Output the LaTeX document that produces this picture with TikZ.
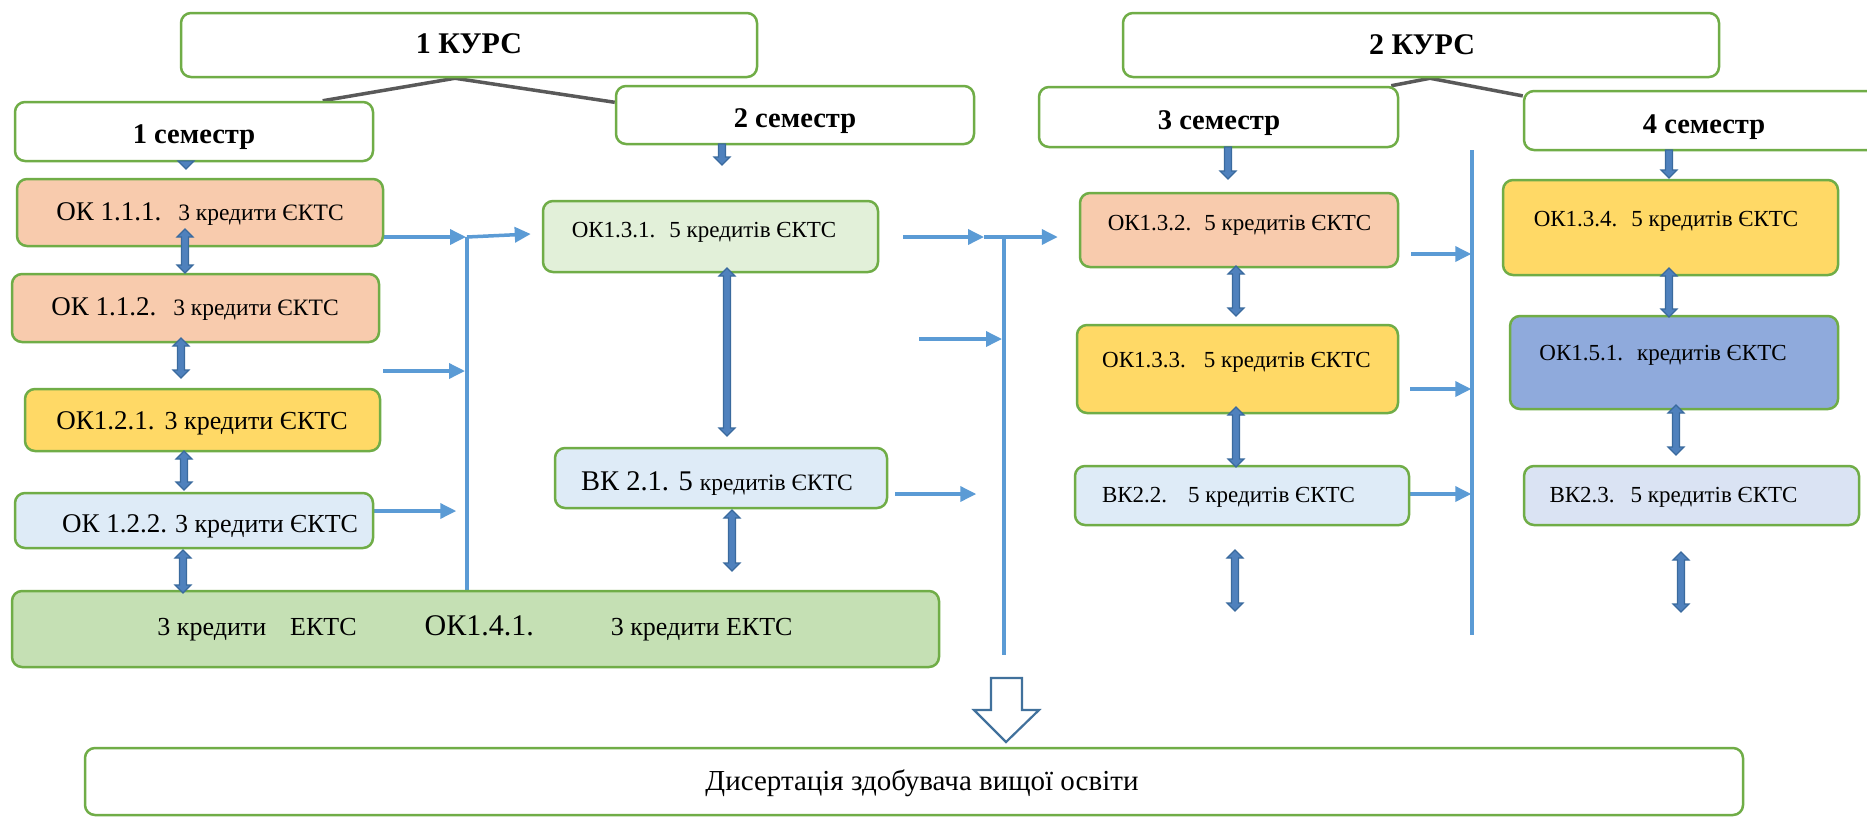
\documentclass[tikz,border=0pt]{standalone}
\usepackage{fontspec}
\setmainfont{Liberation Serif}
\usetikzlibrary{arrows.meta,calc,backgrounds}
\definecolor{gbord}{HTML}{70AD47}
\definecolor{peach}{HTML}{F8CBAD}
\definecolor{yellowb}{HTML}{FFD966}
\definecolor{lblue}{HTML}{DEEBF7}
\definecolor{lgreen}{HTML}{E2F0D9}
\definecolor{mgreen}{HTML}{C5E0B4}
\definecolor{mblue}{HTML}{8FAADC}
\definecolor{vkblue}{HTML}{DAE3F3}
\definecolor{ablue}{HTML}{5B9BD5}
\definecolor{dgrey}{HTML}{595959}
\definecolor{blkfill}{HTML}{4F81BD}
\definecolor{blkdraw}{HTML}{3A6A9E}
\definecolor{hollowc}{HTML}{41719C}
\newcommand\setfs[1]{\fontsize{#1}{#1}\selectfont}
\newcommand\dblarr[3]{%
  \filldraw[blkarr] (#1,#2) -- ++(8,8) -- ++(-4.5,0) -- (#1+3.5,#3-8) -- ++(4.5,0) -- (#1,#3)
    -- ++(-8,-8) -- ++(4.5,0) -- (#1-3.5,#2+8) -- ++(-4.5,0) -- cycle;}
\newcommand\dnarr[3]{%
  \filldraw[blkarr] (#1-3.5,#2) -- (#1+3.5,#2) -- (#1+3.5,#3-8) -- (#1+8,#3-8) -- (#1,#3)
    -- (#1-8,#3-8) -- (#1-3.5,#3-8) -- cycle;}
\tikzset{
  box/.style={draw=gbord, line width=2.5pt, rounded corners=10pt, inner sep=0pt},
  txt/.style={anchor=base, inner sep=0pt, text=black},
  conn/.style={draw=ablue, line width=3.5pt, -{Triangle[length=16pt,width=15pt]}},
  bus/.style={draw=ablue, line width=3.5pt},
  greyl/.style={draw=dgrey, line width=3.5pt},
  blkarr/.style={fill=blkfill, draw=blkdraw, line width=1.2pt},
  hollow/.style={draw=hollowc, fill=white, line width=2.2pt, line join=miter},
}
\begin{document}
\begin{tikzpicture}[x=1pt,y=-1pt]
\useasboundingbox (0,0) rectangle (1867,817);
\clip (0,0) rectangle (1867,817);

% course and semester boxes
\node[box, fill=white, minimum width=576pt, minimum height=64pt] (kurs1) at (469,45) {};
\node[box, fill=white, minimum width=596pt, minimum height=64pt] (kurs2) at (1421,45) {};
\node[box, fill=white, minimum width=358pt, minimum height=59pt] (sem1) at (194,131.5) {};
\node[box, fill=white, minimum width=358pt, minimum height=58pt] (sem2) at (795,115) {};
\node[box, fill=white, minimum width=359pt, minimum height=60pt] (sem3) at (1218.5,117) {};
\node[box, fill=white, minimum width=360pt, minimum height=59pt] (sem4) at (1704,120.5) {};

% column 1
\node[box, fill=peach, minimum width=366pt, minimum height=67pt] (ok111) at (200,212.5) {};
\node[box, fill=peach, minimum width=367pt, minimum height=68pt] (ok112) at (195.5,308) {};
\node[box, fill=yellowb, minimum width=355pt, minimum height=62pt] (ok121) at (202.5,420) {};
\node[box, fill=lblue, minimum width=358pt, minimum height=55pt] (ok122) at (194,520.5) {};
\node[box, fill=mgreen, minimum width=927pt, minimum height=76pt] (ok141) at (475.5,629) {};
% column 2
\node[box, fill=lgreen, minimum width=335pt, minimum height=71pt] (ok131) at (710.5,236.5) {};
\node[box, fill=lblue, minimum width=332pt, minimum height=60pt] (vk21) at (721,478) {};
% column 3
\node[box, fill=peach, minimum width=318pt, minimum height=74pt] (ok132) at (1239,230) {};
\node[box, fill=yellowb, minimum width=321pt, minimum height=88pt] (ok133) at (1237.5,369) {};
\node[box, fill=lblue, minimum width=334pt, minimum height=59pt] (vk22) at (1242,495.5) {};
% column 4
\node[box, fill=yellowb, minimum width=335pt, minimum height=95pt] (ok134) at (1670.5,227.5) {};
\node[box, fill=mblue, minimum width=328pt, minimum height=93pt] (ok151) at (1674,362.5) {};
\node[box, fill=vkblue, minimum width=335pt, minimum height=59pt] (vk23) at (1691.5,495.5) {};
% dissertation
\node[box, fill=white, minimum width=1658pt, minimum height=67pt] (diss) at (914,781.5) {};

% texts
\node[txt] (tkurs1) at (469,53) {\setfs{30}\bfseries 1 КУРС};
\node[txt] (tkurs2) at (1422,54) {\setfs{30}\bfseries 2 КУРС};
\node[txt] (tsem1) at (194,143) {\setfs{28.5}\bfseries 1 семестр};
\node[txt] (tsem2) at (795,127) {\setfs{28.5}\bfseries 2 семестр};
\node[txt] (tsem3) at (1219,129) {\setfs{28.5}\bfseries 3 семестр};
\node[txt] (tsem4) at (1704,133) {\setfs{28.5}\bfseries 4 семестр};

\node[txt] (tok111) at (200,220) {\setfs{27}ОК 1.1.1.\hspace{17pt}\setfs{23.5}3 кредити ЄКТС};
\node[txt] (tok112) at (195,315) {\setfs{27}ОК 1.1.2.\hspace{17pt}\setfs{23.5}3 кредити ЄКТС};
\node[txt] (tok121) at (202,429) {\setfs{27}ОК1.2.1.\hspace{10pt}\setfs{26}3 кредити ЄКТС};
\node[txt] (tok122) at (210,532) {\setfs{27}ОК 1.2.2.\hspace{8pt}\setfs{26}3 кредити ЄКТС};
\node[txt] (tok141) at (475,635) {\setfs{26}3 кредити\hspace{24pt}ЕКТС\hspace{68pt}\setfs{30}ОК1.4.1.\hspace{77pt}\setfs{26}3 кредити ЕКТС};
\node[txt] (tok131) at (704,237) {\setfs{23}ОК1.3.1.\hspace{14pt}5 кредитів ЄКТС};
\node[txt] (tvk21) at (717,490) {\setfs{28.5}ВК 2.1. 5 \setfs{23.5}кредитів ЄКТС};
\node[txt] (tok132) at (1239.5,230) {\setfs{23}ОК1.3.2.\hspace{13pt}5 кредитів ЄКТС};
\node[txt, anchor=base west] (tok133) at (1102,367) {\setfs{23}ОК1.3.3.\hspace{18pt}5 кредитів ЄКТС};
\node[txt] (tvk22) at (1228.5,502) {\setfs{23}ВК2.2.\hspace{21pt}5 кредитів ЄКТС};
\node[txt] (tok134) at (1666,226) {\setfs{23}ОК1.3.4.\hspace{14pt}5 кредитів ЄКТС};
\node[txt] (tok151) at (1663,360) {\setfs{23}ОК1.5.1.\hspace{14pt}кредитів ЄКТС};
\node[txt] (tvk23) at (1673.5,502) {\setfs{23}ВК2.3.\hspace{16pt}5 кредитів ЄКТС};
\node[txt] (tdiss) at (922,790) {\setfs{29}Дисертація здобувача вищої освіти};

% connectors (behind boxes)
\begin{scope}[on background layer]
  \fill[white] (0,0) rectangle (1867,817);
  \coordinate (a1) at ($(kurs1.south)+(-14,0)$);
  \draw[greyl] (a1) -- ($(sem1.north west)!0.857!(sem1.north east)$);
  \draw[greyl] (a1) -- ($(sem2.north west)!0.29!(sem2.south west)$);
  \coordinate (a2) at ($(kurs2.south)+(9,0)$);
  \draw[greyl] (a2) -- ($(sem3.north east)+(-8,0)$);
  \draw[greyl] (a2) -- ($(sem4.north west)!0.1!(sem4.south west)$);

  % bus 1
  \coordinate (j1) at (467,237);
  \draw[bus] (j1) -- (j1 |- ok141.north);
  \draw[conn] (ok111.east |- j1) -- ($(j1)+(-1,0)$);
  \draw[conn] (j1) -- ($(ok131.west)+(-11,-2.5)$);
  \coordinate (f2) at (383,371);
  \draw[conn] (f2) -- ($(f2 -| j1)+(-2,0)$);
  \draw[conn] ($(ok122.east)+(0,-9.5)$) -- +(82,0);

  % bus 2
  \coordinate (j2) at (1004,237);
  \coordinate (j2b) at (1004,655);
  \draw[bus] (j2) -- (j2b);
  \coordinate (f3) at (903,237);
  \coordinate (f3b) at (984,237);
  \draw[conn] (f3) -- (f3b);
  \draw[conn] (f3b) -- ($(ok132.west |- f3b)+(-21,0)$);
  \coordinate (f4) at (919,339);
  \draw[conn] (f4) -- ($(f4 -| j2)+(-2,0)$);
  \draw[conn] ($(vk21.east)+(7,16)$) -- +(81,0);

  % bus 3
  \coordinate (j3t) at (1472,150);
  \coordinate (j3b) at (1472,635);
  \draw[bus] (j3t) -- (j3b);
  \draw[conn] ($(ok132.east)+(12,24)$) -- +(60,0);
  \draw[conn] ($(ok133.east)+(11,20)$) -- +(61,0);
  \draw[conn] ($(vk22.east)+(0,-1.5)$) -- +(61,0);
\end{scope}

% block arrows
\dnarr{186}{161}{169}
\dnarr{722}{144}{165}
\dnarr{1228}{147}{179}
\dnarr{1669}{150}{178}
\dblarr{185}{229}{273}
\dblarr{181}{338}{378}
\dblarr{184}{451}{490}
\dblarr{183}{550}{593}
\dblarr{727}{268}{436}
\dblarr{732}{510}{571}
\dblarr{1236}{266}{316}
\dblarr{1236}{407}{467}
\dblarr{1235}{550}{611}
\dblarr{1669}{268}{317}
\dblarr{1676}{405}{455}
\dblarr{1681}{552}{612}

% hollow arrow to dissertation
\draw[hollow] (991,678) -- (1022,678) -- (1022,710) -- (1039,710) -- (1006,742)
  -- (974,710) -- (991,710) -- cycle;
\end{tikzpicture}
\end{document}
